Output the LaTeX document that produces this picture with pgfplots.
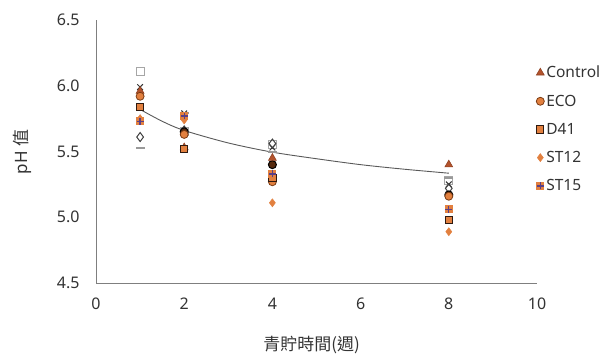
\documentclass[border=0pt]{standalone}
\usepackage{fontspec}
\setmainfont{Noto Sans}
\newfontfamily\cjk{Noto Sans CJK TC}
\usepackage{pgfplots}
\pgfplotsset{compat=1.18}
\usetikzlibrary{plotmarks}
\definecolor{orng}{HTML}{E2803F}
\definecolor{ctrl}{HTML}{B4532C}
\definecolor{brn}{HTML}{7A3A12}
\definecolor{dk}{HTML}{2E1A10}
\definecolor{plusc}{HTML}{5A3F86}
\definecolor{txt}{HTML}{333333}
\definecolor{axc}{HTML}{7F7F7F}
\definecolor{trend}{HTML}{595959}
\pgfdeclareplotmark{sqplus}{%
  \pgfpathrectangle{\pgfqpoint{-\pgfplotmarksize}{-\pgfplotmarksize}}{\pgfqpoint{2\pgfplotmarksize}{2\pgfplotmarksize}}%
  \pgfusepathqfill
  \pgfsetstrokecolor{plusc}\pgfsetlinewidth{1.3pt}%
  \pgfpathmoveto{\pgfqpoint{-0.85\pgfplotmarksize}{0pt}}\pgfpathlineto{\pgfqpoint{0.85\pgfplotmarksize}{0pt}}%
  \pgfpathmoveto{\pgfqpoint{0pt}{-0.85\pgfplotmarksize}}\pgfpathlineto{\pgfqpoint{0pt}{0.85\pgfplotmarksize}}%
  \pgfusepathqstroke}
\begin{document}
\begin{tikzpicture}
\path[use as bounding box] (0,0) rectangle (606pt,354pt);
\begin{axis}[
  at={(96pt,71pt)}, anchor=south west,
  scale only axis, width=441pt, height=263pt,
  xmin=0, xmax=10, ymin=4.5, ymax=6.5,
  xtick={0,2,...,10}, ytick={4.5,5.0,...,6.5},
  axis lines=left,
  axis line style={-, draw=axc, line width=0.9pt},
  major tick length=0pt,
  tick label style={font=\fontsize{16}{19}\selectfont, text=txt},
  /pgf/number format/assume math mode=true,
  yticklabel style={/pgf/number format/fixed, /pgf/number format/fixed zerofill, /pgf/number format/precision=1, xshift=-13pt},
  xticklabel style={yshift=-11pt},
  xlabel={\cjk 青貯時間(週)},
  ylabel={pH {\cjk 值}},
  label style={font=\fontsize{17}{20}\selectfont, text=txt},
  xlabel style={at={(axis description cs:0.489,-0.236)}, anchor=center},
  ylabel style={at={(axis description cs:-0.168,0.498)}, anchor=center},
  legend style={draw=none, fill=none, font=\fontsize{15.5}{18}\selectfont, text=txt,
    at={(axis description cs:0.998,0.833)}, anchor=north west, row sep=11.5pt, inner sep=0pt},
  legend cell align=left,
  legend image code/.code={\draw[mark repeat=2,mark phase=2] plot coordinates {(0cm,0cm)(0.13cm,0cm)(0.26cm,0cm)};},
  clip=false,
]
% trendline (logarithmic fit)
\addplot[forget plot, trend, line width=0.9pt, smooth] coordinates {
  (1,5.82) (1.5,5.73) (2,5.66) (3,5.565) (4,5.495) (5,5.445) (6,5.40) (7,5.365) (8,5.335)};
% series without legend entries
\addplot[forget plot, only marks, mark=square, mark size=4pt, draw=gray!70, line width=1pt] coordinates {
  (1,6.11) (2,5.65) (4,5.55) (8,5.28)};
\addplot[forget plot, only marks, mark=x, mark size=4pt, draw=black!80, line width=1pt] coordinates {
  (1,5.99) (2,5.79) (4,5.53) (8,5.25)};
\addplot[forget plot, only marks, mark=diamond, mark size=4.5pt, draw=black!75, line width=1pt] coordinates {
  (1,5.61) (2,5.66) (4,5.56) (8,5.22)};
\addplot[forget plot, only marks, mark=-, mark size=4.5pt, draw=gray!80, line width=2pt] coordinates {
  (1,5.53) (2,5.79) (4,5.50) (8,5.30)};
\addplot[forget plot, only marks, mark=*, mark size=4pt, draw=black, fill=brn!70!black, line width=1pt] coordinates {
  (2,5.65) (4,5.40) (8,5.17)};
% legend series
\addplot[only marks, mark=triangle*, mark size=4.5pt, draw=ctrl!80!black, fill=ctrl, line width=0.6pt] coordinates {
  (1,5.96) (2,5.53) (4,5.45) (8,5.40)};
\addlegendentry{Control}
\addplot[only marks, mark=*, mark size=4pt, draw=brn, fill=orng, line width=0.8pt] coordinates {
  (1,5.92) (2,5.63) (4,5.27) (8,5.16)};
\addlegendentry{ECO}
\addplot[only marks, mark=square*, mark size=3.6pt, draw=dk, fill=orng, line width=1pt] coordinates {
  (1,5.84) (2,5.52) (4,5.30) (8,4.98)};
\addlegendentry{D41}
\addplot[only marks, mark=diamond*, mark size=4pt, draw=orng, fill=orng, line width=0.5pt] coordinates {
  (1,5.75) (2,5.74) (4,5.11) (8,4.89)};
\addlegendentry{ST12}
\addplot[only marks, mark=sqplus, mark size=4pt, fill=orng] coordinates {
  (1,5.73) (2,5.77) (4,5.33) (8,5.06)};
\addlegendentry{ST15}
\end{axis}
\end{tikzpicture}
\end{document}
